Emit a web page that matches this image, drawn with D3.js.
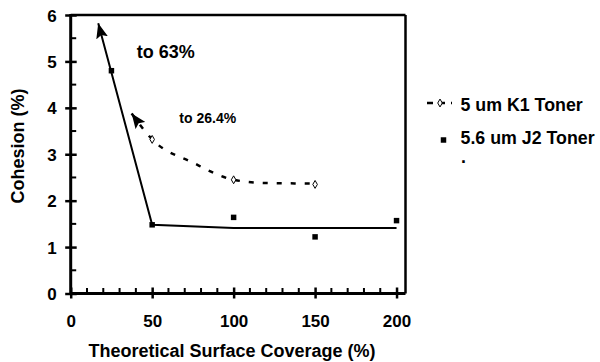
<!DOCTYPE html>
<html><head><meta charset="utf-8">
<script src="https://cdn.jsdelivr.net/npm/d3@7"></script>
<style>
body{margin:0;background:#fff;}
text{font-family:"Liberation Sans",Arial,sans-serif;font-weight:bold;fill:#000;}
</style></head>
<body><svg id="c" width="600" height="362"></svg>
<script>
// Data
const xTicks = [0, 50, 100, 150, 200];
const yTicks = [0, 1, 2, 3, 4, 5, 6];
const seriesNames = ["5 um K1 Toner", "5.6 um J2 Toner"];
// K1 toner measured points
const k1X = [50, 100, 150];
const k1Y = [3.32, 2.45, 2.35];
// K1 trend (dashed) with arrow "to 26.4%"
const k1FitX = [37.4, 50, 75, 100, 120, 150];
const k1FitY = [3.88, 3.32, 2.82, 2.45, 2.38, 2.37];
// J2 toner measured points
const j2X = [25, 50, 100, 150, 200];
const j2Y = [4.8, 1.48, 1.64, 1.22, 1.57];
// J2 trend (solid) with arrow "to 63%"
const j2FitX = [16.9, 50, 100, 200];
const j2FitY = [5.82, 1.48, 1.41, 1.41];
const notes = [{t:"to 63%", x:40.5, y:5.07, size:18}, {t:"to 26.4%", x:66.7, y:3.67, size:14}];

const svg = d3.select("#c");
const L = 70.7, R = 405.5, T = 15, B = 293.5;
const x = d3.scaleLinear().domain([0, 205.5]).range([L, R]);
const y = d3.scaleLinear().domain([0, 6]).range([B, T]);

// arrow marker
const defs = svg.append("defs");
defs.append("marker").attr("id","arr").attr("viewBox","0 -6 15 12")
  .attr("refX",15).attr("refY",0).attr("markerWidth",15).attr("markerHeight",12)
  .attr("markerUnits","userSpaceOnUse").attr("orient","auto-start-reverse")
  .append("path").attr("d","M0,-6L15,0L0,6L3,0Z").attr("fill","#000").attr("stroke","none");

// frame top & right
svg.append("line").attr("x1",L).attr("x2",R).attr("y1",T).attr("y2",T).attr("stroke","#000").attr("stroke-width",2.5);
svg.append("line").attr("x1",R).attr("x2",R).attr("y1",T).attr("y2",B).attr("stroke","#000").attr("stroke-width",2.5);

// minor ticks
const xMinor = d3.range(0, 201, 10).filter(v => v % 50 !== 0);
svg.append("g").selectAll("line").data(xMinor).join("line")
  .attr("x1",d=>x(d)).attr("x2",d=>x(d)).attr("y1",B).attr("y2",B-5.5)
  .attr("stroke","#000").attr("stroke-width",2);
const yMinor = d3.range(0.5, 6, 1);
svg.append("g").selectAll("line").data(yMinor).join("line")
  .attr("x1",L).attr("x2",L+5.5).attr("y1",d=>y(d)).attr("y2",d=>y(d))
  .attr("stroke","#000").attr("stroke-width",2);

// axes
const xAxis = d3.axisBottom(x).tickValues(xTicks).tickSize(0).tickPadding(0).tickFormat(d3.format("d"));
const gx = svg.append("g").attr("transform",`translate(0,${B})`).call(xAxis);
gx.select(".domain").attr("d",`M${L},0H${R}`).attr("stroke-width",3);
gx.selectAll(".tick line").attr("y1",-6).attr("y2",5).attr("stroke-width",2.5);
gx.selectAll(".tick text").attr("y",33.5).attr("dy",0).attr("font-size",17).attr("font-family",null);

const yAxis = d3.axisLeft(y).tickValues(yTicks).tickSize(0).tickPadding(0).tickFormat(d3.format("d"));
const gy = svg.append("g").attr("transform",`translate(${L},0)`).call(yAxis);
gy.select(".domain").attr("d",`M0,${B+1.5}V${T-1}`).attr("stroke-width",3);
gy.selectAll(".tick line").attr("x1",-5.5).attr("x2",6).attr("stroke-width",2.5);
gy.selectAll(".tick text").attr("x",-14).attr("dy","0.36em").attr("font-size",17).attr("font-family",null);

// titles
svg.append("text").attr("x",232).attr("y",357).attr("text-anchor","middle").attr("font-size",18)
  .text("Theoretical Surface Coverage (%)");
svg.append("text").attr("transform","translate(24,146) rotate(-90)").attr("text-anchor","middle").attr("font-size",18)
  .text("Cohesion (%)");

// lines
const line = d3.line().x(d=>x(d[0])).y(d=>y(d[1]));
svg.append("path").datum(j2FitX.map((v,i)=>[v,j2FitY[i]]))
  .attr("d", line).attr("fill","none").attr("stroke","#000").attr("stroke-width",2)
  .attr("marker-start","url(#arr)");
svg.append("path").datum(k1FitX.map((v,i)=>[v,k1FitY[i]]))
  .attr("d", line.curve(d3.curveMonotoneX)).attr("fill","none").attr("stroke","#000").attr("stroke-width",2.5)
  .attr("stroke-dasharray","5,9").attr("marker-start","url(#arr)");

// markers
const sq = d3.symbol().type(d3.symbolSquare).size(30);
svg.append("g").selectAll("path").data(j2X.map((v,i)=>[v,j2Y[i]])).join("path")
  .attr("transform",d=>`translate(${x(d[0])},${y(d[1])})`).attr("d",sq()).attr("fill","#000");
const dm = d3.symbol().type(d3.symbolDiamond).size(18);
svg.append("g").selectAll("path").data(k1X.map((v,i)=>[v,k1Y[i]])).join("path")
  .attr("transform",d=>`translate(${x(d[0])},${y(d[1])})`).attr("d",dm()).attr("fill","#fff").attr("stroke","#000").attr("stroke-width",1);

// annotations
svg.append("g").selectAll("text").data(notes).join("text")
  .attr("x",d=>x(d.x)).attr("y",d=>y(d.y)).attr("font-size",d=>d.size).text(d=>d.t);

// legend
const lg = svg.append("g");
lg.append("line").attr("x1",427).attr("x2",452).attr("y1",103).attr("y2",103).attr("stroke","#000")
  .attr("stroke-width",2.5).attr("stroke-dasharray","6,6");
lg.append("path").attr("transform","translate(440,103)").attr("d",dm()).attr("fill","#fff").attr("stroke","#000");
lg.append("text").attr("x",460.5).attr("y",110.5).attr("font-size",17.8).text(seriesNames[0]);
lg.append("path").attr("transform","translate(443.5,140)").attr("d",sq()).attr("fill","#000");
lg.append("text").attr("x",460.5).attr("y",143.5).attr("font-size",17.8).text(seriesNames[1]);
lg.append("text").attr("x",461).attr("y",163).attr("font-size",17.8).text(".");
</script></body></html>
